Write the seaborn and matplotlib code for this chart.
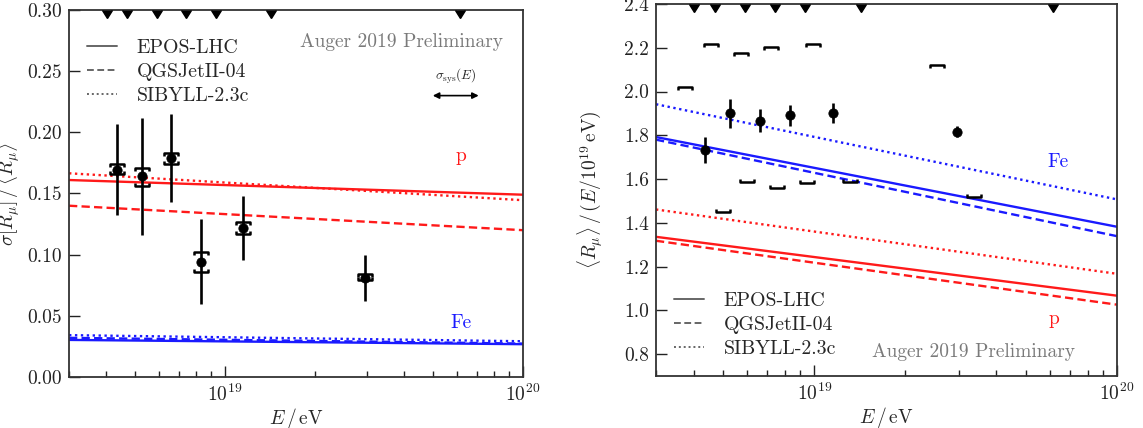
import matplotlib
matplotlib.use("Agg")
import matplotlib.pyplot as plt
import numpy as np
import pandas as pd
import seaborn as sns
from matplotlib.lines import Line2D
from matplotlib.path import Path
from matplotlib.ticker import FormatStrFormatter, NullFormatter

# measured points (energy in eV)
ENERGY = [4.35e18, 5.27e18, 6.6e18, 8.3e18, 1.15e19, 2.96e19]
BIN_EDGES = [4.02e18, 4.7e18, 5.9e18, 7.4e18, 9.31e18, 1.43e19, 6.15e19]

SIGMA = [0.169, 0.164, 0.179, 0.094, 0.122, 0.081]
SIGMA_STAT_LO = [0.132, 0.116, 0.143, 0.060, 0.096, 0.062]
SIGMA_STAT_HI = [0.207, 0.212, 0.215, 0.129, 0.148, 0.100]
SIGMA_SYS_LO = [0.166, 0.156, 0.174, 0.086, 0.117, 0.079]
SIGMA_SYS_HI = [0.174, 0.171, 0.183, 0.102, 0.127, 0.084]

RMU = [1.731, 1.901, 1.867, 1.893, 1.904, 1.817]
RMU_STAT_LO = [1.674, 1.835, 1.813, 1.843, 1.858, 1.790]
RMU_STAT_HI = [1.790, 1.968, 1.921, 1.939, 1.947, 1.844]
RMU_SYS_HI_E = [3.74e18, 4.55e18, 5.71e18, 7.18e18, 9.9e18, 2.54e19]
RMU_SYS_HI = [2.020, 2.217, 2.177, 2.204, 2.219, 2.120]
RMU_SYS_LO_E = [5.0e18, 6.01e18, 7.54e18, 9.47e18, 1.31e19, 3.36e19]
RMU_SYS_LO = [1.448, 1.585, 1.557, 1.580, 1.588, 1.516]

# model predictions at the ends of the energy range
MODEL_E = [3e18, 1e20]
MODELS = ["EPOS-LHC", "QGSJetII-04", "SIBYLL-2.3c"]
SIGMA_P = {"EPOS-LHC": [0.161, 0.149], "QGSJetII-04": [0.140, 0.120], "SIBYLL-2.3c": [0.1665, 0.1445]}
SIGMA_FE = {"EPOS-LHC": [0.0303, 0.0268], "QGSJetII-04": [0.032, 0.0273], "SIBYLL-2.3c": [0.0342, 0.0292]}
RMU_P = {"EPOS-LHC": [1.336, 1.067], "QGSJetII-04": [1.318, 1.026], "SIBYLL-2.3c": [1.461, 1.167]}
RMU_FE = {"EPOS-LHC": [1.792, 1.382], "QGSJetII-04": [1.780, 1.339], "SIBYLL-2.3c": [1.942, 1.507]}

COLORS = {"p": "#ff1a1a", "Fe": "#1a1aff"}
DASHES = {"EPOS-LHC": "", "QGSJetII-04": (3.5, 1.8), "SIBYLL-2.3c": (1, 1.5)}
GREY = "#7a7a7a"
CODES = [Path.MOVETO, Path.LINETO, Path.LINETO, Path.LINETO]
CAP_DOWN = Path([(-1, -0.45), (-1, 0), (1, 0), (1, -0.45)], CODES)
CAP_UP = Path([(-1, 0.45), (-1, 0), (1, 0), (1, 0.45)], CODES)


def model_frame(proton, iron):
    rows = []
    for primary, table in (("p", proton), ("Fe", iron)):
        for model in MODELS:
            for energy, value in zip(MODEL_E, table[model]):
                rows.append({"E": energy, "value": value, "primary": primary, "model": model})
    return pd.DataFrame(rows)


def style_axis(ax, ylim, yticks):
    ax.set_xscale("log")
    ax.set_xlim(3e18, 1e20)
    ax.set_ylim(*ylim)
    ax.set_yticks(yticks)
    ax.xaxis.set_minor_formatter(NullFormatter())
    ax.tick_params(which="both", direction="in", top=False, right=False, colors="#222222",
                   labelsize=14, width=1.0)
    ax.tick_params(which="major", length=8, pad=5)
    ax.tick_params(which="minor", length=4.5)
    for spine in ax.spines.values():
        spine.set_color("#333333")
        spine.set_linewidth(1.3)
    ax.set_xlabel(r"$E\,/\,\mathrm{eV}$", fontsize=14)
    ax.xaxis.set_label_coords(0.5, -0.078)


def draw_models(ax, frame):
    sns.lineplot(data=frame, x="E", y="value", hue="primary", style="model",
                 palette=COLORS, dashes=DASHES, style_order=MODELS, estimator=None,
                 linewidth=1.7, legend=False, ax=ax)


def draw_points(ax, y, lo, hi):
    ax.vlines(ENERGY, lo, hi, color="black", linewidth=1.9, zorder=4)
    sns.scatterplot(x=ENERGY, y=y, color="black", s=45, edgecolor="black", zorder=5, ax=ax)


def draw_caps(ax, x_hi, y_hi, x_lo, y_lo):
    ax.plot(x_hi, y_hi, ls="none", marker=CAP_DOWN, ms=9.5, mfc="none", mec="black", mew=1.8, zorder=5)
    ax.plot(x_lo, y_lo, ls="none", marker=CAP_UP, ms=9.5, mfc="none", mec="black", mew=1.8, zorder=5)


def draw_edges(ax):
    ax.plot(BIN_EDGES, [1.0] * len(BIN_EDGES), transform=ax.get_xaxis_transform(),
            linestyle="none", marker=11, markersize=7.5, color="black", clip_on=False, zorder=6)


def add_legend(ax, **kwargs):
    handles = [Line2D([], [], color="#666666", lw=1.4)]
    handles += [Line2D([], [], color="#666666", lw=1.4, dashes=DASHES[m]) for m in MODELS[1:]]
    ax.legend(handles, MODELS, frameon=False, fontsize=14.3, handlelength=1.5,
              labelspacing=0.3, handletextpad=1.0, **kwargs)


sns.set_theme(style="ticks")
plt.rcParams["font.family"] = ["cmr10", "DejaVu Serif"]
plt.rcParams["mathtext.fontset"] = "cm"
plt.rcParams["axes.formatter.use_mathtext"] = True
plt.rcParams["axes.unicode_minus"] = False

fig = plt.figure(figsize=(11.43, 4.28), dpi=100)
ax1 = fig.add_axes([0.0604, 0.1192, 0.3972, 0.8575])
ax2 = fig.add_axes([0.5739, 0.1215, 0.4033, 0.8692])

# left panel: relative fluctuations
draw_models(ax1, model_frame(SIGMA_P, SIGMA_FE))
draw_points(ax1, SIGMA, SIGMA_STAT_LO, SIGMA_STAT_HI)
draw_caps(ax1, ENERGY, SIGMA_SYS_HI, ENERGY, SIGMA_SYS_LO)
draw_edges(ax1)
style_axis(ax1, (0.0, 0.30), np.arange(0, 0.301, 0.05))
ax1.yaxis.set_major_formatter(FormatStrFormatter("%.2f"))
ax1.set_ylabel(r"$\sigma[R_\mu]\,/\,\langle R_\mu\rangle$", fontsize=14)
ax1.yaxis.set_label_coords(-0.104, 0.5)
add_legend(ax1, loc="upper left", bbox_to_anchor=(0.0, 0.97))
ax1.text(0.955, 0.913, "Auger 2019 Preliminary", transform=ax1.transAxes, ha="right", va="center",
         fontsize=14, color=GREY)
ax1.annotate("", xy=(7.1e19, 0.230), xytext=(4.98e19, 0.230),
             arrowprops=dict(arrowstyle="<|-|>", lw=1.2, color="black", mutation_scale=9, shrinkA=0, shrinkB=0))
ax1.text(5.95e19, 0.238, r"$\sigma_\mathrm{sys}(E)$", ha="center", va="bottom", fontsize=9.5)
ax1.text(6.2e19, 0.181, "p", color=COLORS["p"], fontsize=14, ha="center", va="center")
ax1.text(6.2e19, 0.044, "Fe", color=COLORS["Fe"], fontsize=14, ha="center", va="center")

# right panel: mean muon content
draw_models(ax2, model_frame(RMU_P, RMU_FE))
draw_points(ax2, RMU, RMU_STAT_LO, RMU_STAT_HI)
draw_caps(ax2, RMU_SYS_HI_E, RMU_SYS_HI, RMU_SYS_LO_E, RMU_SYS_LO)
draw_edges(ax2)
style_axis(ax2, (0.7, 2.4), np.arange(0.8, 2.41, 0.2))
ax2.yaxis.set_major_formatter(FormatStrFormatter("%.1f"))
ax2.set_ylabel(r"$\langle R_\mu\rangle\,/\,(E/10^{19}\,\mathrm{eV})$", fontsize=14)
ax2.yaxis.set_label_coords(-0.11, 0.5)
add_legend(ax2, loc="lower left", bbox_to_anchor=(0.0, 0.0))
ax2.text(0.909, 0.0645, "Auger 2019 Preliminary", transform=ax2.transAxes, ha="right", va="center",
         fontsize=14, color=GREY)
ax2.text(6.4e19, 1.676, "Fe", color=COLORS["Fe"], fontsize=14, ha="center", va="center")
ax2.text(6.2e19, 0.961, "p", color=COLORS["p"], fontsize=14, ha="center", va="center")

fig.savefig("out.png", dpi=100)
plt.close(fig)
